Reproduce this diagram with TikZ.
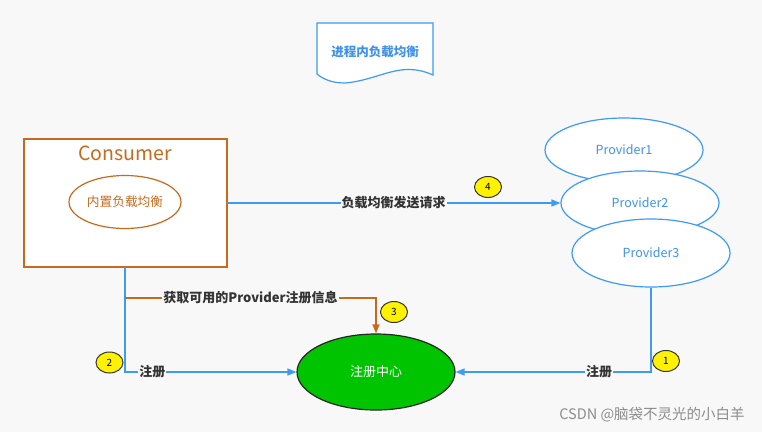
\documentclass[tikz,border=0pt]{standalone}
\usepackage{fontspec}
\setmainfont{Noto Sans CJK SC}
\usetikzlibrary{arrows.meta,shapes.geometric,calc}
\definecolor{bgcol}{HTML}{F8F8F8}
\definecolor{lineblue}{HTML}{3D9BF5}
\definecolor{textblue}{HTML}{3E92EC}
\definecolor{consorange}{HTML}{C86A1E}
\definecolor{regreen}{HTML}{00C400}

\begin{document}
\begin{tikzpicture}[x=1pt,y=-1pt]

\tikzset{
  fs/.style={font={\fontsize{#1}{#1}\selectfont}},
  fsb/.style={font={\fontsize{#1}{#1}\selectfont\bfseries}},
  provider/.style={ellipse, draw=lineblue, line width=1.2pt, fill=white, minimum width=158pt, minimum height=64pt, inner sep=0pt, text=textblue, fs=12.5},
  badge/.style={ellipse, draw=black!80, line width=1pt, fill=yellow, minimum width=27pt, minimum height=21pt, inner sep=0pt, fs=10},
  flow/.style={draw=lineblue, line width=1.5pt, -{Triangle[length=9pt,width=7pt]}},
  tag/.style={fill=bgcol, inner sep=1pt, text=black!80, fsb=13}
}

\fill[bgcol] (0,0) rectangle (762,432);

% title sheet
\draw[lineblue, line width=1.2pt, fill=white] (317,74) -- (317,23) -- (433,23) -- (433,75)
  .. controls (400,60) and (380,80) .. (345,83) .. controls (330,83) and (322,78) .. (317,74);
\node[text=textblue, fsb=12.5] (title) at (375,52) {进程内负载均衡};

% consumer
\draw[consorange, line width=1.4pt, fill=white] (24,139) rectangle (227,267);
\node[text=consorange, fs=19.5] (constitle) at (125,153) {Consumer};
\node[ellipse, draw=consorange, line width=1.2pt, minimum width=112pt, minimum height=53pt, inner sep=0pt, text=consorange, fs=12.7] (lb) at (125,202) {内置负载均衡};

% providers
\node[provider] (p1) at (624,150) {Provider1};
\node[provider] (p2) at (640,203) {Provider2};
\node[provider, minimum height=68pt] (p3) at (651,253) {Provider3};

% registry
\node[ellipse, draw=black!85, line width=1.2pt, fill=regreen, minimum width=158pt, minimum height=76pt, inner sep=0pt, text=white, fs=13] (reg) at (376,372) {注册中心};

% connectors
\coordinate (consE) at (227,203);
\coordinate (consS) at (125,267);
\coordinate (branch) at (125,298);
\draw[flow] (consE) -- (p2.west) node[tag, midway] (t4) {负载均衡发送请求};
\draw[flow] (consS) |- (reg.west) node[tag, pos=0.58] (t2) {注册};
\draw[flow, draw=consorange] (branch) -| (reg.north) node[tag, pos=0.25] (t3) {获取可用的Provider注册信息};
\draw[flow] (p3.south) |- (reg.east) node[tag, pos=0.633] (t1) {注册};

% steps
\node[badge] (b1) at (666,361) {1};
\node[badge] (b2) at (109.5,362.5) {2};
\node[badge] (b3) at (394,312) {3};
\node[badge] (b4) at (488,187) {4};

\node[text=black!45, fs=14.5] (mark) at (652,415) {CSDN @脑袋不灵光的小白羊};

\end{tikzpicture}
\end{document}
